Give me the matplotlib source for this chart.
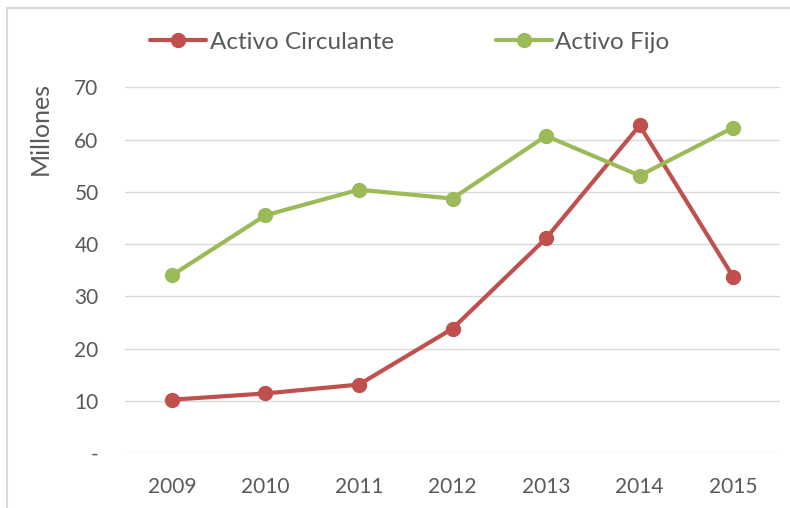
import matplotlib.pyplot as plt
from matplotlib.lines import Line2D

plt.rcParams['font.family'] = ['Lato', 'DejaVu Sans']

years = ['2009', '2010', '2011', '2012', '2013', '2014', '2015']
activo_circulante = [10.2, 11.4, 13.1, 23.8, 41.1, 62.7, 33.7]
activo_fijo = [34.0, 45.5, 50.4, 48.7, 60.7, 53.1, 62.3]
ytick_vals = [0, 10, 20, 30, 40, 50, 60, 70]
ytick_labels = ['-', '10', '20', '30', '40', '50', '60', '70']

red = '#C0504D'
green = '#9BBB59'
txt = '#595959'

fig = plt.figure(figsize=(7.9, 5.08), dpi=100)
ax = fig.add_axes([125 / 790, 1 - 453 / 508, 655 / 790, (453 - 87.3) / 508])

x = range(len(years))
ax.plot(x, activo_circulante, color=red, lw=3, marker='o', ms=10,
        label='Activo Circulante', solid_capstyle='round', zorder=3)
ax.plot(x, activo_fijo, color=green, lw=3, marker='o', ms=10,
        label='Activo Fijo', solid_capstyle='round', zorder=3)

ax.set_xlim(-0.5, len(years) - 0.5)
ax.set_ylim(0, 70)
ax.set_xticks(list(x))
ax.set_xticklabels(years)
ax.set_yticks(ytick_vals)
ax.set_yticklabels(ytick_labels)
ax.tick_params(length=0, labelsize=15, colors=txt)
ax.tick_params(axis='y', pad=19)
ax.tick_params(axis='x', pad=17)
ax.grid(axis='y', color='#D9D9D9', lw=1)
ax.set_axisbelow(True)
for s in ax.spines.values():
    s.set_visible(False)

fig.text(40 / 790, 1 - 128 / 508, 'Millones', rotation=90, ha='center',
         va='center', fontsize=18, color=txt)

leg = fig.legend(loc='center', bbox_to_anchor=(410 / 790, 1 - 42 / 508), ncol=2,
                 frameon=False, fontsize=17.5, handlelength=2.3,
                 handletextpad=0.15, columnspacing=4.2, labelcolor=txt)

# light chart-area border (top and left)
fig.add_artist(Line2D([7 / 790, 1], [1 - 8 / 508, 1 - 8 / 508], color='#D9D9D9', lw=1.5))
fig.add_artist(Line2D([7 / 790, 7 / 790], [0, 1 - 8 / 508], color='#D9D9D9', lw=1.5))

fig.savefig('out.png', dpi=100)
